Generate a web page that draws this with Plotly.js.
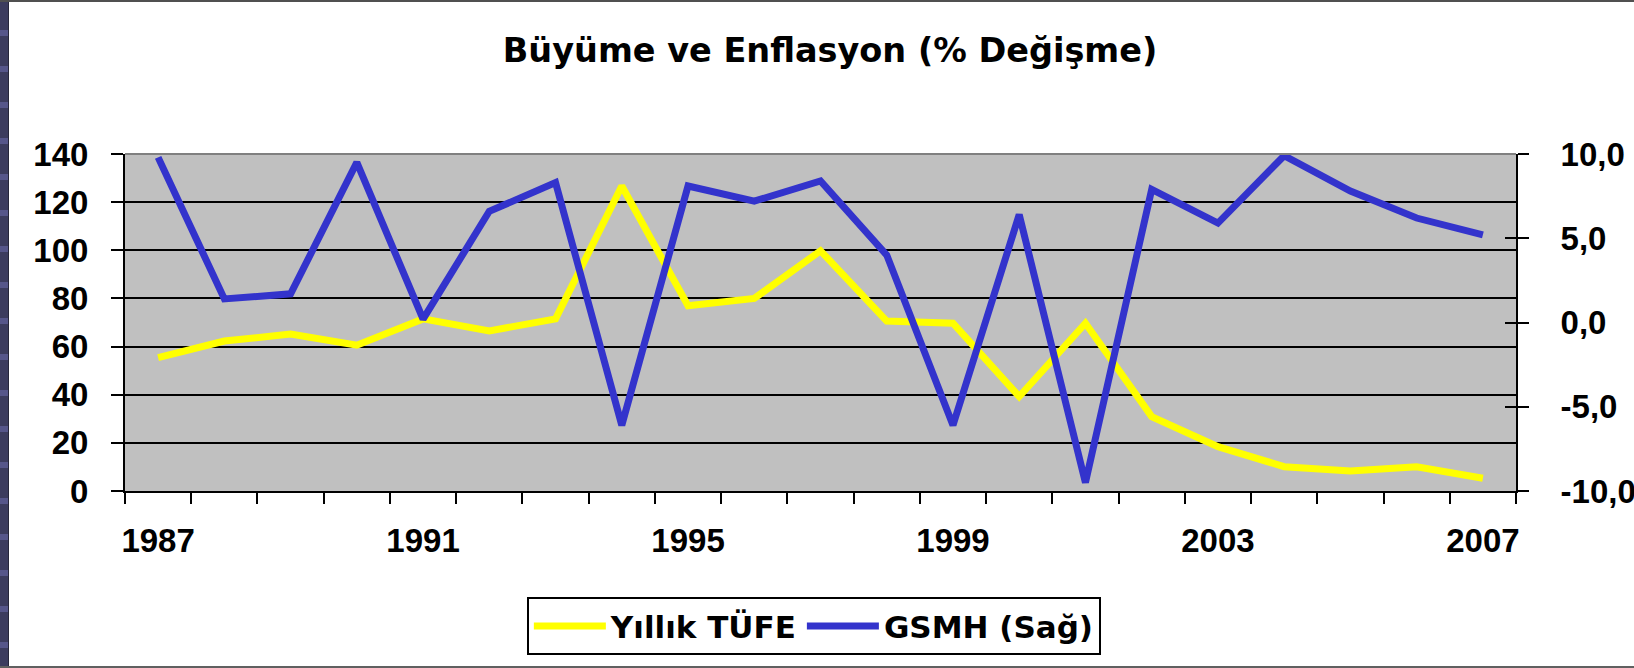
<!DOCTYPE html>
<html>
<head>
<meta charset="utf-8">
<script src="https://cdn.plot.ly/plotly-3.0.1.min.js"></script>
<style>
  html, body { margin:0; padding:0; background:#ffffff; }
  #wrap { position:relative; width:1634px; height:668px; overflow:hidden; }
  #chart { position:absolute; left:0; top:0; width:1634px; height:668px; }
  #leftstrip { position:absolute; left:0; top:0; width:8px; height:668px;
    background: repeating-linear-gradient(180deg, #3c3c5e 0px, #3c3c5e 30px, #56568a 30px, #56568a 36px); border-right:1px solid #26263a; }
  #topline { position:absolute; left:0; top:0; width:1634px; height:2px; background:#505050; }
  #botline { position:absolute; left:0; top:666px; width:1634px; height:2px; background:#606060; }
</style>
</head>
<body>
<div id="wrap">
  <div id="chart"></div>
  <div id="leftstrip"></div>
  <div id="topline"></div>
  <div id="botline"></div>
</div>
<script>
// ---- data ----
var years = [1987,1988,1989,1990,1991,1992,1993,1994,1995,1996,1997,1998,1999,2000,2001,2002,2003,2004,2005,2006,2007];
var tufe  = [55.4,62.3,65.2,60.6,71.5,66.5,71.5,126.7,77.0,80.0,99.8,70.6,69.7,39.2,69.7,30.9,18.4,10.1,8.3,10.1,5.3];
var gsmh  = [9.8,1.4,1.7,9.5,0.2,6.6,8.3,-6.1,8.1,7.2,8.4,4.0,-6.1,6.4,-9.5,7.9,5.9,9.9,7.8,6.2,5.2];
var labelYears = [1987,1991,1995,1999,2003,2007];
var rightTickVals = [-10,-5,0,5,10];
var rightTickText = ['-10,0','-5,0','0,0','5,0','10,0'];
var seriesNames = ['Yıllık TÜFE','GSMH (Sağ)'];
var chartTitle = 'Büyüme ve Enflasyon (% Değişme)';

var tickFont = {family:'Liberation Sans, Arial, sans-serif', size:33, weight:'bold', color:'#000000'};
var xRange = [years[0]-0.5, years[years.length-1]+0.5];

var traces = [
  {x:years, y:tufe, xaxis:'x', yaxis:'y', type:'scatter', mode:'lines', name:seriesNames[0],
   line:{color:'#ffff00', width:7}, hoverinfo:'skip'},
  {x:years, y:gsmh, xaxis:'x2', yaxis:'y2', type:'scatter', mode:'lines', name:seriesNames[1],
   line:{color:'#3333cc', width:7}, hoverinfo:'skip'},
  {x:[], y:[], xaxis:'x', yaxis:'y3', type:'scatter', mode:'lines', showlegend:false, hoverinfo:'skip'}
];

var layout = {
  width:1634, height:668,
  margin:{l:125, r:117.5, t:154, b:176.5, pad:0},
  paper_bgcolor:'#ffffff', plot_bgcolor:'#c0c0c0',
  separators:',.',
  showlegend:true,
  title:{text:chartTitle, font:{family:'DejaVu Sans, sans-serif', size:33.5, weight:'bold', color:'#000000'},
         xref:'container', x:0.508, xanchor:'center', yref:'container', y:1-50/668, yanchor:'middle'},
  xaxis:{type:'linear', range:xRange, tick0:xRange[0], dtick:1, ticks:'outside', ticklen:11, tickwidth:2, tickcolor:'#000000',
         showticklabels:false, showline:true, linecolor:'#000000', linewidth:2, showgrid:false, zeroline:false, fixedrange:true},
  xaxis2:{type:'linear', overlaying:'x', anchor:'y2', side:'bottom', range:xRange, tickvals:labelYears, ticks:'',
          showline:false, showgrid:false, zeroline:false, tickfont:tickFont, ticklabelstandoff:27, fixedrange:true},
  yaxis:{range:[0,140], dtick:20, tick0:0, ticks:'outside', ticklen:12, tickwidth:2, tickcolor:'#000000',
         showline:true, linecolor:'#000000', linewidth:2, showgrid:true, gridcolor:'#000000', gridwidth:2,
         zeroline:false, tickfont:tickFont, ticklabelstandoff:16, fixedrange:true},
  yaxis2:{overlaying:'y', anchor:'x', side:'right', range:[-10,10], tickvals:rightTickVals, ticktext:rightTickText,
          ticks:'outside', ticklen:11, tickwidth:2, tickcolor:'#000000', showline:true, linecolor:'#000000', linewidth:2,
          showgrid:false, zeroline:false, tickfont:tickFont, ticklabelstandoff:25, fixedrange:true},
  yaxis3:{overlaying:'y', anchor:'x', side:'right', range:[-10,10], tickvals:rightTickVals,
          ticks:'inside', ticklen:11, tickwidth:2, tickcolor:'#000000', showticklabels:false,
          showline:false, showgrid:false, zeroline:false, fixedrange:true},
  legend:{orientation:'h', xref:'paper', yref:'paper', x:(527-125)/1391.5, xanchor:'left', y:(491.5-598)/337.5, yanchor:'top',
          bordercolor:'#000000', borderwidth:2, bgcolor:'#ffffff', itemwidth:72,
          font:{family:'DejaVu Sans, sans-serif', size:31, weight:'bold', color:'#000000'}},
  shapes:[
    {type:'line', xref:'paper', yref:'paper', x0:0, x1:1, y0:1, y1:1, layer:'above', line:{color:'#808080', width:2}}
  ]
};

Plotly.newPlot('chart', traces, layout, {staticPlot:true, displayModeBar:false});
</script>
</body>
</html>
